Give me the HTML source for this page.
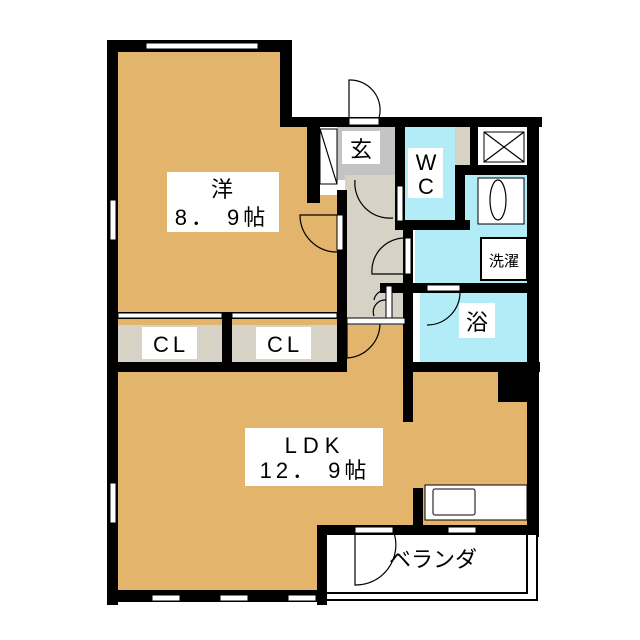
<!DOCTYPE html><html><head><style>body{margin:0;background:#fff}svg{display:block}text{font-family:"Liberation Sans","Noto Sans CJK JP",sans-serif}</style></head><body>
<svg width="640" height="640" viewBox="0 0 640 640" xmlns="http://www.w3.org/2000/svg">
<rect width="640" height="640" fill="#fff"/>
<rect x="112" y="45" width="176" height="280" fill="#e2b46c"/>
<rect x="280" y="120" width="35" height="205" fill="#e2b46c"/>
<rect x="310" y="195" width="30" height="130" fill="#e2b46c"/>
<rect x="112" y="365" width="420" height="230" fill="#e2b46c"/>
<rect x="345" y="320" width="65" height="60" fill="#e2b46c"/>
<rect x="118" y="325" width="224" height="40" fill="#d6d2c6"/>
<rect x="337" y="125" width="68" height="55" fill="#c4c4c4"/>
<rect x="345" y="175" width="60" height="150" fill="#d6d2c6"/>
<rect x="400" y="125" width="60" height="100" fill="#b2ecf7"/>
<rect x="455" y="125" width="15" height="55" fill="#d6d2c6"/>
<rect x="415" y="170" width="115" height="122" fill="#b2ecf7"/>
<rect x="420" y="292" width="110" height="72" fill="#b2ecf7"/>
<rect x="320" y="530" width="215" height="70" fill="#fff"/>
<g fill="#000">
<rect x="107" y="40" width="185" height="12"/>
<rect x="107" y="40" width="11" height="565"/>
<rect x="280" y="40" width="12" height="87"/>
<rect x="280" y="117" width="262" height="10"/>
<rect x="307" y="117" width="13" height="86"/>
<rect x="337" y="190" width="10" height="182"/>
<rect x="107" y="312" width="240" height="7"/>
<rect x="222" y="318" width="10" height="50"/>
<rect x="107" y="362" width="240" height="10"/>
<rect x="395" y="117" width="10" height="110"/>
<rect x="395" y="220" width="75" height="10"/>
<rect x="455" y="165" width="10" height="62"/>
<rect x="455" y="165" width="75" height="10"/>
<rect x="470" y="117" width="8" height="55"/>
<rect x="527" y="117" width="12" height="420"/>
<rect x="403" y="225" width="10" height="197"/>
<rect x="380" y="283" width="155" height="10"/>
<rect x="410" y="362" width="130" height="10"/>
<rect x="498" y="372" width="30" height="30"/>
<rect x="413" y="488" width="10" height="40"/>
<rect x="317" y="525" width="222" height="10"/>
<rect x="317" y="525" width="10" height="80"/>
<rect x="107" y="590" width="220" height="12"/>
</g>
<rect x="327" y="535" width="210" height="65" fill="#fff"/>
<path d="M327 593H527V535M327 600H537V535" fill="none" stroke="#000" stroke-width="2"/>
<g fill="#fff" stroke="#000" stroke-width="1">
<rect x="146" y="43" width="112" height="6"/>
<rect x="110" y="200" width="6" height="40"/>
<rect x="110" y="483" width="6" height="40"/>
<rect x="152" y="595" width="28" height="6"/>
<rect x="220" y="595" width="28" height="6"/>
<rect x="288" y="595" width="28" height="6"/>
<rect x="118" y="313" width="104" height="5"/>
<rect x="232" y="313" width="105" height="5"/>
<rect x="425" y="485" width="102" height="35"/>
<rect x="433" y="489" width="42" height="26" rx="2"/>
<rect x="355" y="527" width="38" height="6"/>
<rect x="448" y="527" width="28" height="6"/>
<rect x="349" y="118" width="30" height="7"/>
<rect x="320" y="129" width="17" height="55"/>
<rect x="337" y="215" width="6" height="35"/>
<rect x="397" y="186" width="6" height="35"/>
<rect x="405" y="238" width="6" height="36"/>
<rect x="386" y="286" width="6" height="34"/>
<rect x="427" y="285" width="33" height="6"/>
<rect x="347" y="318" width="58" height="6"/>
<rect x="484" y="132" width="40" height="30"/>
<rect x="478" y="178" width="46" height="46"/>
<rect x="481" y="238" width="46" height="42" stroke-width="2"/>
</g>
<g fill="none" stroke="#000" stroke-width="1.2">
<path d="M320 129L337 184M484 132L524 162M524 132L484 162"/>
<ellipse cx="498" cy="200" rx="8" ry="20"/>
<path d="M349 118V80A30 30 0 0 1 379 118"/>
<path d="M337 215H300A37 37 0 0 0 337 252"/>
<path d="M355 180A35 35 0 0 0 393 218"/>
<path d="M405 238A33 33 0 0 0 372 274H405"/>
<path d="M386 290A12 12 0 0 0 374 300M386 300A12 12 0 0 0 374 316"/>
<path d="M460 291A33 33 0 0 1 427 325"/>
<path d="M347 324V358A35 35 0 0 0 380 324"/>
<path d="M355 533V585A40 40 0 0 0 394 533"/>
</g>
<g fill="#fff">
<rect x="167" y="172" width="112" height="60"/>
<rect x="342" y="131" width="38" height="33"/>
<rect x="408" y="148" width="35" height="50"/>
<rect x="459" y="303" width="36" height="35"/>
<rect x="142" y="327" width="55" height="32"/>
<rect x="256" y="327" width="55" height="32"/>
<rect x="245" y="428" width="138" height="58"/>
</g>
<g font-size="22" fill="#000" text-anchor="middle">
<text x="222" y="197">洋</text>
<text x="222" y="225" letter-spacing="4">8． 9帖</text>
<text x="361" y="157">玄</text>
<text x="426" y="170">W</text>
<text x="426" y="194">C</text>
<text x="477" y="330">浴</text>
<text x="171" y="352" letter-spacing="4">CL</text>
<text x="285" y="352" letter-spacing="4">CL</text>
<text x="315" y="453" letter-spacing="6">LDK</text>
<text x="315" y="478" letter-spacing="4">12． 9帖</text>
<text x="433" y="567">ベランダ</text>
<text x="504" y="266" font-size="15">洗濯</text>
</g>
</svg></body></html>
